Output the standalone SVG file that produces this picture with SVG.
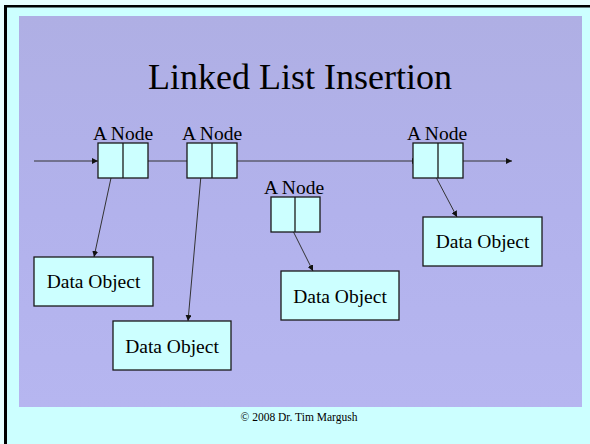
<svg xmlns="http://www.w3.org/2000/svg" width="590" height="444" viewBox="0 0 590 444">
<defs>
<marker id="ah" markerWidth="7" markerHeight="6" refX="6" refY="3" orient="auto" markerUnits="userSpaceOnUse">
<path d="M0,0 L6,3 L0,6 Z" fill="#111"/>
</marker>
<linearGradient id="bg" x1="0" y1="0" x2="0" y2="1">
<stop offset="0" stop-color="#AFAFE4"/>
<stop offset="0.5" stop-color="#B2B2EC"/>
<stop offset="1" stop-color="#B6B6F0"/>
</linearGradient>
<style>
.box{fill:#CCFFFF;stroke:#1a1a1a;stroke-width:1.3}
.lbl{font-family:"Liberation Serif","Times New Roman",serif;font-size:19.5px;fill:#000;text-anchor:middle}
.ln{stroke:#333;stroke-width:1;fill:none}
.arr{stroke:#333;stroke-width:1;fill:none;marker-end:url(#ah)}
</style>
</defs>
<rect x="0" y="0" width="590" height="444" fill="#CCFFFF"/>
<rect x="0" y="0" width="590" height="5" fill="#E8FFFF"/>
<rect x="0" y="0" width="4" height="444" fill="#E8FFFF"/>
<rect x="4" y="5" width="586" height="2.5" fill="#000"/>
<rect x="4" y="5" width="3" height="439" fill="#000"/>
<rect x="19" y="16" width="563" height="391" fill="url(#bg)"/>
<text x="300" y="89" font-family="Liberation Serif, Times New Roman, serif" font-size="36" text-anchor="middle" fill="#000">Linked List Insertion</text>
<g id="connectors">
<line class="arr" x1="34" y1="161" x2="98" y2="161"/>
<line class="arr" x1="133" y1="161" x2="197" y2="161"/>
<line class="arr" x1="222" y1="161" x2="418" y2="161"/>
<line class="arr" x1="448" y1="161" x2="512" y2="161"/>
<line class="arr" x1="114" y1="164" x2="94" y2="257"/>
<line class="arr" x1="202" y1="164" x2="188" y2="321"/>
<line class="arr" x1="286" y1="217" x2="313" y2="271"/>
<line class="arr" x1="428" y1="162" x2="457" y2="217"/>
</g>
<g id="node1">
<text class="lbl" x="123" y="140">A Node</text>
<rect class="box" x="98" y="143" width="50" height="35"/>
<line class="box" x1="123" y1="143" x2="123" y2="178"/>
</g>
<g id="node2">
<text class="lbl" x="212" y="140">A Node</text>
<rect class="box" x="187" y="143" width="50" height="35"/>
<line class="box" x1="212" y1="143" x2="212" y2="178"/>
</g>
<g id="node3">
<text class="lbl" x="437" y="140">A Node</text>
<rect class="box" x="413" y="143" width="50" height="35"/>
<line class="box" x1="438" y1="143" x2="438" y2="178"/>
</g>
<g id="node4">
<text class="lbl" x="294" y="194">A Node</text>
<rect class="box" x="271" y="197" width="49" height="35"/>
<line class="box" x1="295" y1="197" x2="295" y2="232"/>
</g>
<g id="data1">
<rect class="box" x="34" y="257" width="119" height="49"/>
<text class="lbl" x="93.5" y="288">Data Object</text>
</g>
<g id="data2">
<rect class="box" x="113" y="321" width="118" height="49"/>
<text class="lbl" x="172" y="353">Data Object</text>
</g>
<g id="data3">
<rect class="box" x="281" y="271" width="118" height="49"/>
<text class="lbl" x="340" y="303">Data Object</text>
</g>
<g id="data4">
<rect class="box" x="423" y="217" width="119" height="49"/>
<text class="lbl" x="482.5" y="248">Data Object</text>
</g>
<text x="299" y="421" font-family="Liberation Serif, Times New Roman, serif" font-size="11.5" text-anchor="middle" fill="#000">© 2008 Dr. Tim Margush</text>
</svg>
